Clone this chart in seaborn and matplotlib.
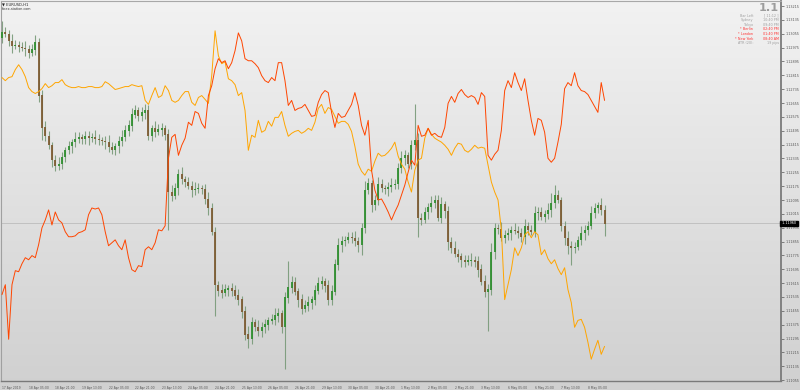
import numpy as np
import pandas as pd
import matplotlib
matplotlib.use('Agg')
import matplotlib.pyplot as plt
from matplotlib.colors import LinearSegmentedColormap
import seaborn as sns

# EURUSD closes (2h bars)
close = [1.13066, 1.13055, 1.13014, 1.12985, 1.12991, 1.12980, 1.12974, 1.12968, 1.12946, 1.12963,
         1.13008, 1.12698, 1.12514, 1.12463, 1.12411, 1.12325, 1.12291, 1.12302, 1.12342, 1.12382,
         1.12405, 1.12429, 1.12446, 1.12457, 1.12450, 1.12463, 1.12452, 1.12460, 1.12446, 1.12440,
         1.12434, 1.12429, 1.12400, 1.12382, 1.12405, 1.12434, 1.12457, 1.12497, 1.12526, 1.12589,
         1.12612, 1.12583, 1.12601, 1.12612, 1.12463, 1.12509, 1.12491, 1.12503, 1.12509, 1.12474,
         1.12141, 1.12118, 1.12164, 1.12244, 1.12216, 1.12199, 1.12176, 1.12152, 1.12158, 1.12164,
         1.12160, 1.12101, 1.12049, 1.11912, 1.11606, 1.11572, 1.11561, 1.11578, 1.11584, 1.11572,
         1.11543, 1.11520, 1.11451, 1.11319, 1.11291, 1.11389, 1.11360, 1.11342, 1.11360, 1.11377,
         1.11400, 1.11406, 1.11429, 1.11440, 1.11360, 1.11532, 1.11590, 1.11618, 1.11566, 1.11520,
         1.11469, 1.11486, 1.11503, 1.11520, 1.11572, 1.11612, 1.11624, 1.11601, 1.11520, 1.11566,
         1.11722, 1.11837, 1.11859, 1.11865, 1.11882, 1.11877, 1.11859, 1.11837, 1.11934, 1.12152,
         1.12193, 1.12066, 1.12095, 1.12187, 1.12164, 1.12158, 1.12170, 1.12181, 1.12187, 1.12279,
         1.12336, 1.12353, 1.12302, 1.12411, 1.12440, 1.11991, 1.11980, 1.12026, 1.12055, 1.12078,
         1.12095, 1.11991, 1.12072, 1.12032, 1.11854, 1.11819, 1.11785, 1.11768, 1.11750, 1.11739,
         1.11745, 1.11750, 1.11739, 1.11693, 1.11624, 1.11566, 1.11578, 1.11796, 1.11934, 1.11928,
         1.11877, 1.11894, 1.11906, 1.11923, 1.11917, 1.11906, 1.11883, 1.11946, 1.11923, 1.11912,
         1.12021, 1.12026, 1.11997, 1.12015, 1.12038, 1.12078, 1.12123, 1.12095, 1.11946, 1.11877,
         1.11831, 1.11819, 1.11825, 1.11865, 1.11906, 1.11923, 1.11946, 1.12021, 1.12049, 1.12066,
         1.12038, 1.11960]
first_open = 1.13030
# wick lengths in pips above / below the body
wick_up = [6, 3, 2, 4, 3, 2, 3, 4, 2, 3, 4, 2, 3, 4, 3, 2, 3, 4, 3, 2,
           3, 2, 4, 3, 2, 3, 3, 2, 4, 3, 2, 3, 4, 3, 2, 3, 4, 3, 3, 4,
           3, 2, 3, 4, 3, 2, 4, 3, 3, 2, 3, 4, 3, 3, 4, 2, 3, 3, 4, 3,
           2, 3, 4, 3, 3, 2, 4, 3, 2, 3, 3, 4, 2, 3, 5, 3, 2, 4, 3, 3,
           2, 3, 4, 3, 2, 3, 15, 4, 3, 2, 3, 3, 4, 2, 3, 4, 3, 2, 3, 4,
           3, 4, 3, 2, 3, 3, 4, 2, 3, 5, 3, 2, 3, 4, 3, 2, 3, 4, 3, 3,
           4, 3, 2, 3, 21, 4, 3, 3, 2, 4, 3, 3, 4, 2, 3, 3, 4, 3, 2, 3,
           3, 4, 2, 3, 3, 4, 3, 5, 3, 2, 4, 3, 3, 2, 4, 3, 3, 4, 2, 3,
           4, 3, 3, 2, 4, 6, 6, 3, 2, 3, 4, 3, 3, 2, 4, 3, 3, 4, 3, 2,
           4, 3]
wick_dn = [3, 2, 3, 4, 2, 3, 2, 4, 3, 2, 3, 4, 7, 3, 2, 4, 3, 2, 3, 3,
           2, 4, 3, 2, 3, 3, 4, 2, 3, 3, 2, 4, 3, 2, 3, 4, 3, 2, 3, 3,
           2, 3, 3, 4, 2, 3, 3, 2, 4, 3, 22, 3, 2, 4, 3, 3, 2, 4, 3, 2,
           3, 3, 4, 2, 18, 3, 3, 2, 4, 3, 2, 3, 4, 3, 5, 3, 2, 3, 4, 3,
           3, 2, 3, 4, 3, 24, 3, 3, 2, 4, 3, 2, 3, 4, 3, 2, 3, 4, 3, 3,
           2, 3, 4, 3, 2, 3, 3, 4, 6, 3, 2, 4, 3, 3, 2, 3, 4, 3, 2, 3,
           3, 4, 2, 3, 3, 11, 3, 2, 4, 3, 3, 2, 3, 4, 5, 3, 2, 3, 4, 3,
           2, 3, 3, 4, 2, 3, 23, 3, 4, 3, 2, 3, 3, 4, 2, 3, 3, 4, 3, 2,
           3, 4, 2, 3, 3, 4, 3, 2, 3, 4, 5, 10, 3, 2, 3, 4, 3, 2, 3, 3,
           3, 7]

# overlay lines (other symbols mapped onto the price scale)
line_orange = [1.12802, 1.12784, 1.12802, 1.12807, 1.12848, 1.12876, 1.12848, 1.12807, 1.12744, 1.12721,
               1.12710, 1.12721, 1.12738, 1.12767, 1.12744, 1.12755, 1.12773, 1.12773, 1.12790, 1.12761,
               1.12750, 1.12744, 1.12744, 1.12750, 1.12744, 1.12744, 1.12750, 1.12750, 1.12744, 1.12744,
               1.12750, 1.12778, 1.12767, 1.12750, 1.12733, 1.12738, 1.12744, 1.12750, 1.12750, 1.12761,
               1.12755, 1.12750, 1.12755, 1.12670, 1.12647, 1.12698, 1.12744, 1.12687, 1.12698, 1.12755,
               1.12727, 1.12670, 1.12659, 1.12670, 1.12698, 1.12721, 1.12721, 1.12659, 1.12641, 1.12687,
               1.12698, 1.12676, 1.12653, 1.12813, 1.13072, 1.12928, 1.12882, 1.12893, 1.12795, 1.12784,
               1.12761, 1.12698, 1.12715, 1.12612, 1.12382, 1.12469, 1.12457, 1.12555, 1.12486, 1.12497,
               1.12549, 1.12521, 1.12572, 1.12572, 1.12606, 1.12526, 1.12463, 1.12480, 1.12491, 1.12497,
               1.12480, 1.12491, 1.12509, 1.12497, 1.12544, 1.12624, 1.12647, 1.12595, 1.12629, 1.12618,
               1.12578, 1.12538, 1.12549, 1.12549, 1.12532, 1.12491, 1.12405, 1.12302, 1.12261, 1.12238,
               1.12273, 1.12261, 1.12319, 1.12365, 1.12348, 1.12353, 1.12371, 1.12394, 1.12429, 1.12348,
               1.12302, 1.12273, 1.12199, 1.12141, 1.12267, 1.12325, 1.12336, 1.12452, 1.12509, 1.12474,
               1.12452, 1.12440, 1.12429, 1.12411, 1.12388, 1.12353, 1.12394, 1.12423, 1.12417, 1.12382,
               1.12371, 1.12388, 1.12411, 1.12394, 1.12400, 1.12394, 1.12296, 1.12199, 1.12141, 1.12095,
               1.11923, 1.11520, 1.11606, 1.11693, 1.11819, 1.11774, 1.11819, 1.11894, 1.11912, 1.11877,
               1.11912, 1.11894, 1.11779, 1.11808, 1.11756, 1.11727, 1.11750, 1.11699, 1.11664, 1.11704,
               1.11578, 1.11503, 1.11360, 1.11400, 1.11406, 1.11360, 1.11274, 1.11176, 1.11233, 1.11285,
               1.11204, 1.11250]
line_red = [1.11549, 1.11606, 1.11291, 1.11606, 1.11687, 1.11681, 1.11727, 1.11762, 1.11750, 1.11774,
            1.11762, 1.11837, 1.11934, 1.11980, 1.12038, 1.11951, 1.12026, 1.11980, 1.11963, 1.11912,
            1.11883, 1.11883, 1.11888, 1.11906, 1.11912, 1.11923, 1.12010, 1.12049, 1.12043, 1.12049,
            1.12010, 1.11912, 1.11831, 1.11848, 1.11865, 1.11831, 1.11808, 1.11865, 1.11762, 1.11693,
            1.11681, 1.11716, 1.11710, 1.11808, 1.11825, 1.11808, 1.11848, 1.11923, 1.11917, 1.11946,
            1.12336, 1.12457, 1.12474, 1.12353, 1.12411, 1.12452, 1.12544, 1.12526, 1.12606, 1.12595,
            1.12538, 1.12509, 1.12698, 1.12755, 1.12853, 1.12911, 1.12888, 1.12899, 1.12853, 1.12888,
            1.12957, 1.13060, 1.13014, 1.12911, 1.12899, 1.12899, 1.12882, 1.12859, 1.12813, 1.12784,
            1.12773, 1.12802, 1.12784, 1.12888, 1.12888, 1.12784, 1.12641, 1.12670, 1.12612, 1.12624,
            1.12629, 1.12647, 1.12612, 1.12578, 1.12583, 1.12659, 1.12704, 1.12727, 1.12715, 1.12601,
            1.12514, 1.12595, 1.12572, 1.12578, 1.12612, 1.12647, 1.12715, 1.12641, 1.12526, 1.12469,
            1.12555, 1.12267, 1.12152, 1.12095, 1.12101, 1.12066, 1.12026, 1.11980, 1.12026, 1.12066,
            1.12124, 1.12181, 1.12256, 1.12325, 1.12296, 1.12526, 1.12463, 1.12469, 1.12509, 1.12469,
            1.12480, 1.12463, 1.12457, 1.12514, 1.12653, 1.12693, 1.12659, 1.12710, 1.12733, 1.12704,
            1.12687, 1.12698, 1.12687, 1.12647, 1.12715, 1.12693, 1.12353, 1.12325, 1.12359, 1.12382,
            1.12497, 1.12727, 1.12784, 1.12744, 1.12830, 1.12773, 1.12727, 1.12795, 1.12670, 1.12555,
            1.12469, 1.12566, 1.12555, 1.12486, 1.12336, 1.12313, 1.12336, 1.12429, 1.12532, 1.12738,
            1.12773, 1.12755, 1.12830, 1.12755, 1.12727, 1.12721, 1.12704, 1.12670, 1.12635, 1.12601,
            1.12773, 1.12670]

date_labels = ["17 Apr 2019", "18 Apr 05:00", "18 Apr 21:00", "19 Apr 13:00", "22 Apr 05:00",
               "22 Apr 21:00", "23 Apr 13:00", "24 Apr 05:00", "24 Apr 21:00", "25 Apr 13:00",
               "26 Apr 05:00", "26 Apr 21:00", "29 Apr 13:00", "30 Apr 05:00", "30 Apr 21:00",
               "1 May 13:00", "2 May 05:00", "2 May 21:00", "3 May 13:00", "6 May 05:00",
               "6 May 21:00", "7 May 13:00", "8 May 05:00"]
price_labels = ["1.13215", "1.13135", "1.13055", "1.12975", "1.12895", "1.12815", "1.12735",
                "1.12655", "1.12575", "1.12495", "1.12415", "1.12335", "1.12255", "1.12175",
                "1.12095", "1.12015", "1.11935", "1.11855", "1.11775", "1.11695", "1.11615",
                "1.11535", "1.11455", "1.11375", "1.11295", "1.11215", "1.11135", "1.11055"]
last_price = 1.11960

info_rows = [("Bar Left", "[ 11:12 ]", "#a0a0a0"), ("Sydney", "10:40 PM", "#a0a0a0"),
             ("Tokyo", "09:40 PM", "#a0a0a0"), ("* Berlin", "02:40 PM", "#ff3333"),
             ("* London", "01:40 PM", "#ff3333"), ("* New York", "08:40 AM", "#ff3333"),
             ("ATR (20):", "19 pips", "#a0a0a0")]

sns.set_theme(style='white')
plt.rcParams['font.family'] = ['DejaVu Sans']

W, H = 800, 390
fig = plt.figure(figsize=(W / 100, H / 100), dpi=100)

# grey gradient background like the terminal
bg = fig.add_axes([0, 0, 1, 1], zorder=0)
cmap = LinearSegmentedColormap.from_list('bg', ['#f2f2f2', '#d0d0d0'])
bg.imshow(np.linspace(0, 1, 256).reshape(-1, 1), aspect='auto', cmap=cmap, extent=[0, 1, 0, 1])
bg.axis('off')

ax = fig.add_axes([1 / W, 9 / H, 780 / W, 1 - 10 / H], zorder=1)
ax.patch.set_alpha(0)

n = len(close)
idx = np.arange(n)
c = np.array(close)
o = np.array([first_open] + close[:-1])
hi = np.maximum(o, c) + np.array(wick_up) * 0.0001
lo = np.minimum(o, c) - np.array(wick_dn) * 0.0001
up = c >= o

ax.axhline(last_price, color='#bcbcbc', lw=0.6, zorder=1)
ax.vlines(idx, lo, hi, color='#789a78', lw=0.8, alpha=0.9, zorder=2)
# candle bodies as thick segments (keep at least a sliver for dojis)
b_lo = np.minimum(o, c) - 0.00001
b_hi = np.maximum(o, c) + 0.00001
ax.vlines(idx[up], b_lo[up], b_hi[up], color='#2f8f2f', lw=1.3, zorder=3)
ax.vlines(idx[~up], b_lo[~up], b_hi[~up], color='#7d5b32', lw=1.3, zorder=3)

df = pd.DataFrame({'bar': idx, 'orange': line_orange, 'red': line_red})
sns.lineplot(data=df, x='bar', y='orange', color='#ffa500', lw=0.7, ax=ax, zorder=4)
sns.lineplot(data=df, x='bar', y='red', color='#ff4500', lw=0.7, ax=ax, zorder=4)
ax.set_xlabel('')
ax.set_ylabel('')

ax.set_xlim(-0.3, 234)
ax.set_ylim(1.11050, 1.13244)

for side, col, lw in [('top', '#a8a8a8', 0.8), ('left', '#a0a0a0', 0.8),
                      ('right', '#7a7a7a', 1.3), ('bottom', '#7a7a7a', 1.0)]:
    ax.spines[side].set_color(col)
    ax.spines[side].set_linewidth(lw)

ax.yaxis.tick_right()
ax.set_yticks([float(p) for p in price_labels])
ax.set_yticklabels(price_labels)
ax.tick_params(axis='y', direction='out', length=2, width=0.5, colors='#555555',
               labelsize=2.4, pad=1, left=False, right=True)

ax.set_xticks(idx[::8][:len(date_labels)])
ax.set_xticklabels(date_labels)
ax.tick_params(axis='x', direction='out', length=3, width=0.5, colors='#555555',
               labelsize=2.2, pad=0.5)
for lbl in ax.get_xticklabels():
    lbl.set_ha('left')

ax.text(1.0, last_price, ' 1.11960 ', transform=ax.get_yaxis_transform(), ha='left', va='center',
        fontsize=2.4, color='white', zorder=6,
        bbox=dict(boxstyle='square,pad=0.2', fc='black', ec='black'))

fig.text(2 / W, 1 - 4 / H, '\u25bc EURUSD,H1', fontsize=2.7, va='center', ha='left', color='#222222')
fig.text(2 / W, 1 - 8.5 / H, 'forex-station.com', fontsize=2.4, va='center', ha='left', color='#333333')

fig.text(779 / W, 1 - 8 / H, '1.1', fontsize=8.2, ha='right', va='center', color='#9c9c9c',
         fontweight='bold')
for k, (lab, val, col) in enumerate(info_rows):
    yy = 1 - (15.7 + 4.6 * k) / H
    fig.text(753 / W, yy, lab, fontsize=2.4, ha='right', va='center', color=col)
    fig.text(779 / W, yy, val, fontsize=2.4, ha='right', va='center', color=col)

fig.savefig('out.png', dpi=100)
